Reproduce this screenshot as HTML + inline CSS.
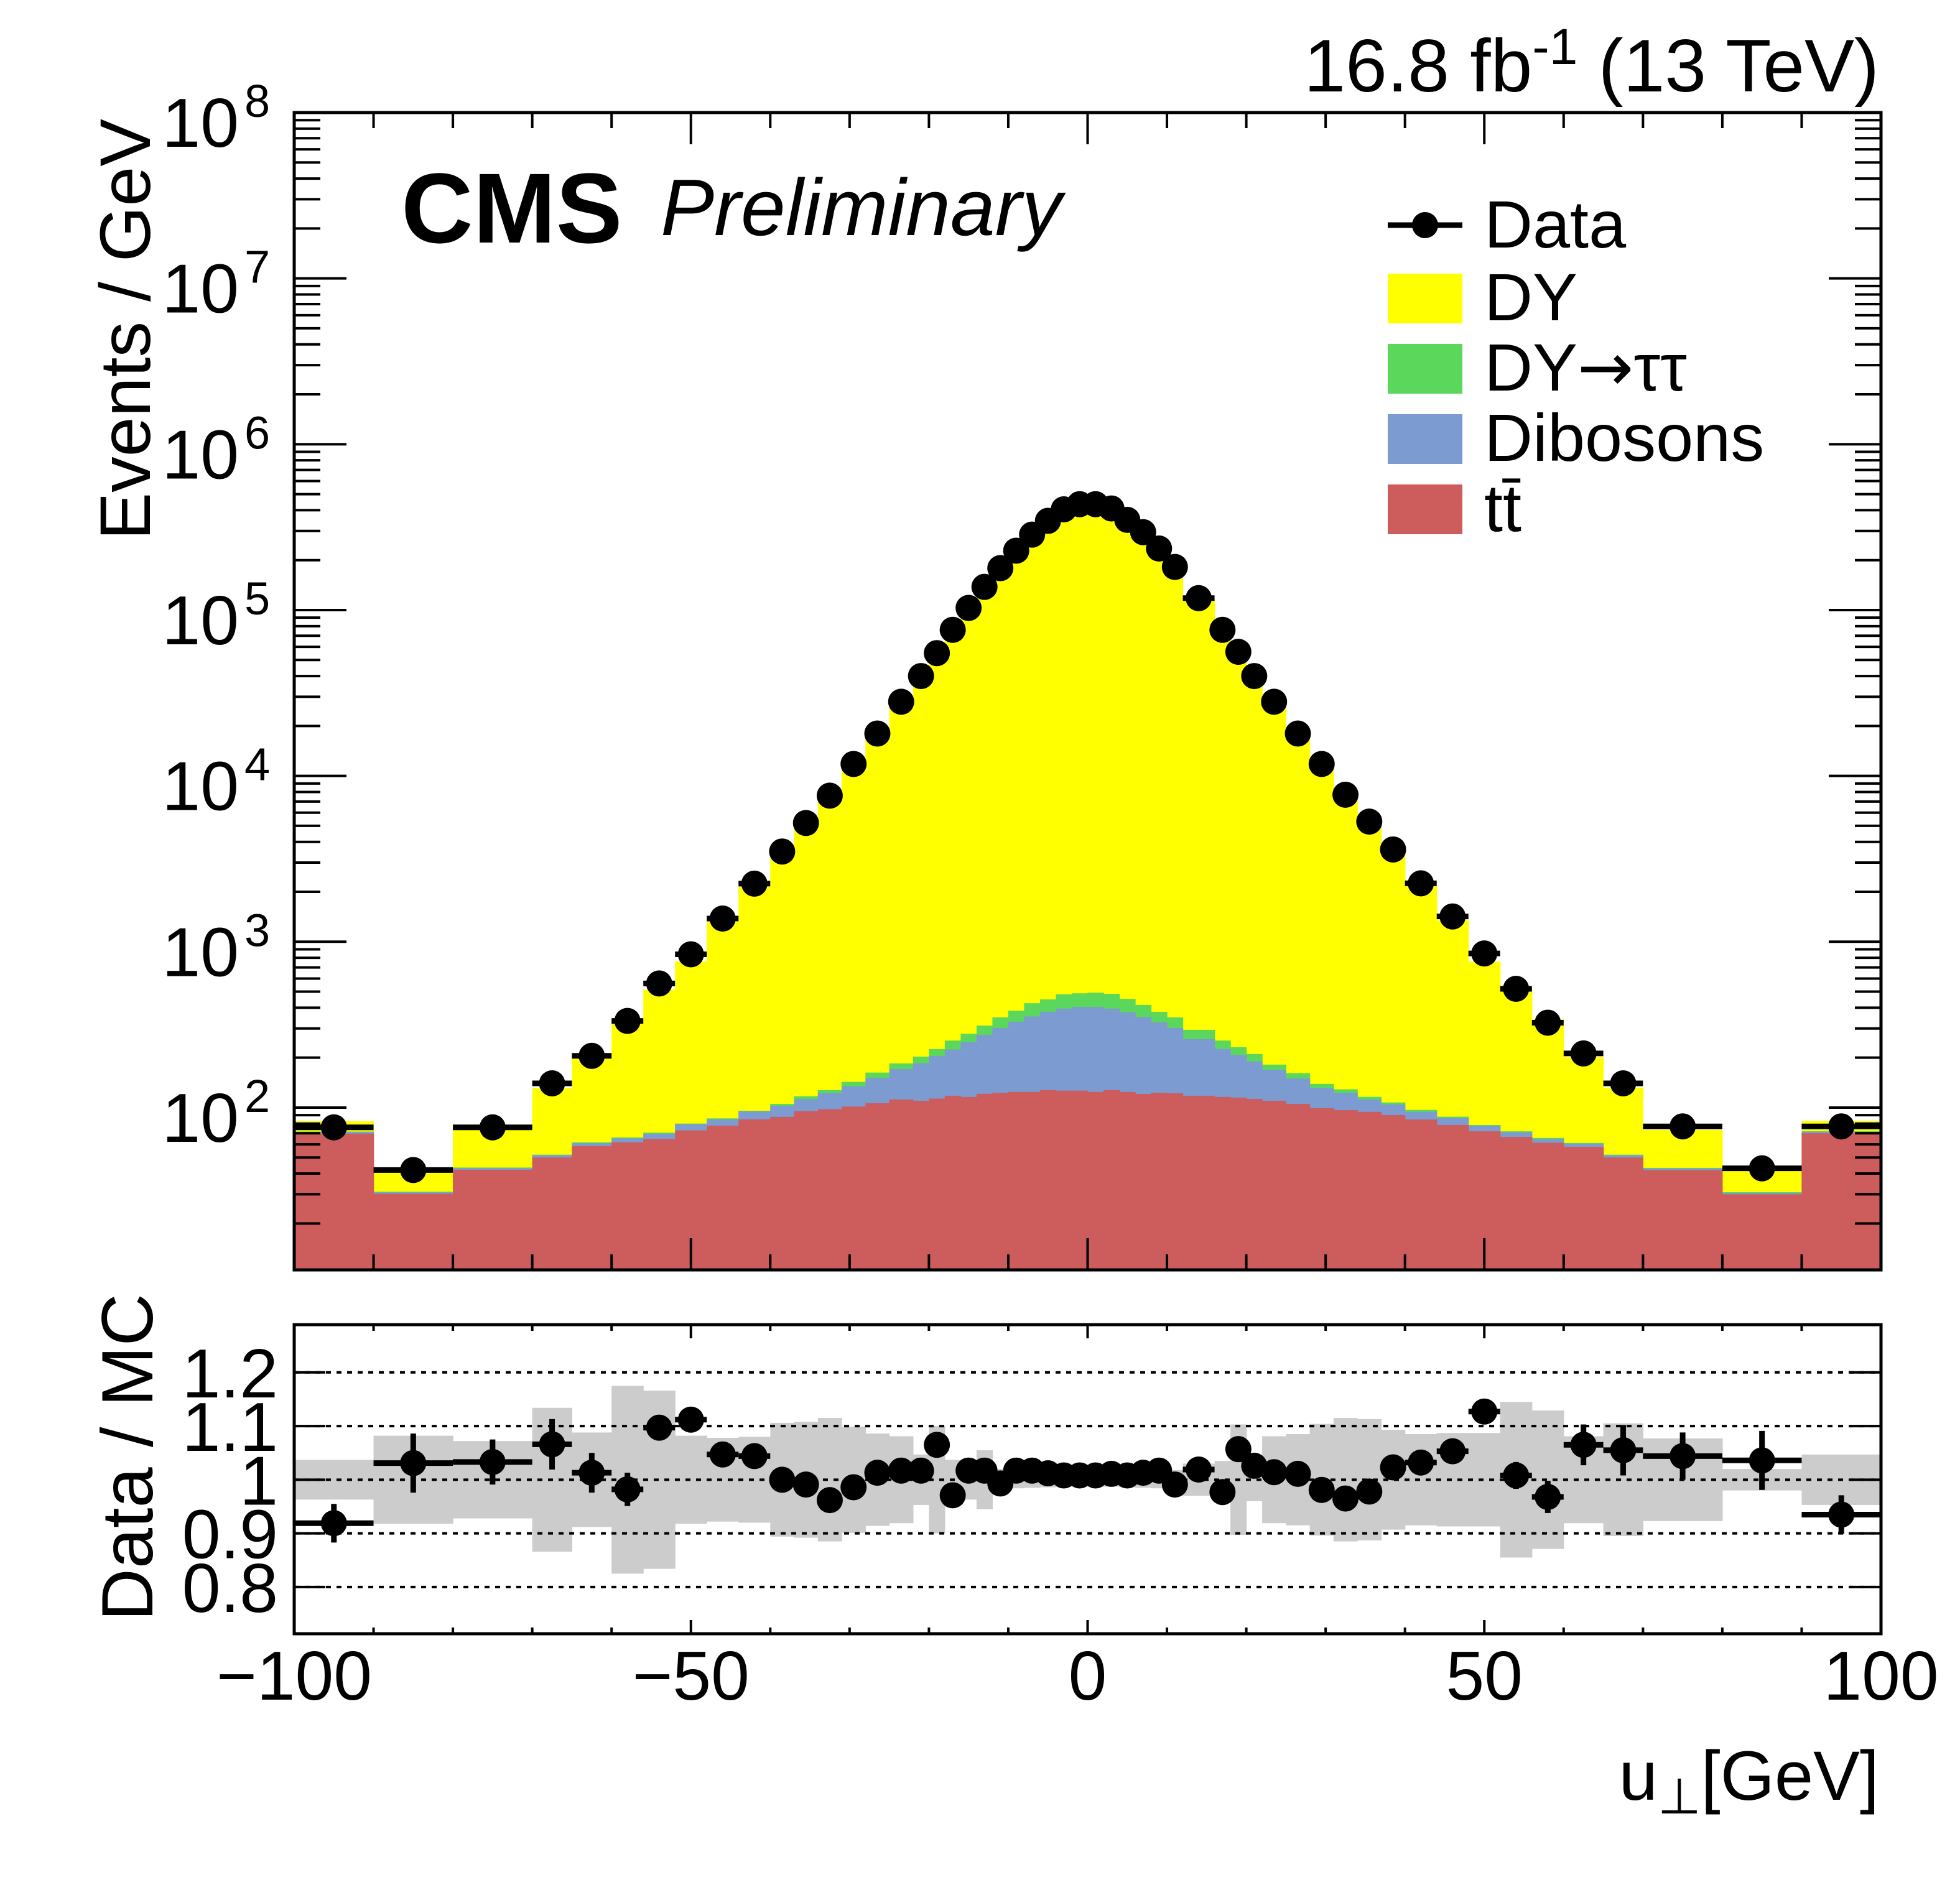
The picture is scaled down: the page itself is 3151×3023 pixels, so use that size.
<!DOCTYPE html>
<html><head><meta charset="utf-8"><style>
html,body{margin:0;padding:0;background:#fff;}
svg{display:block;font-family:"Liberation Sans",Arial,sans-serif;}
</style></head><body>
<svg id="chart" xmlns="http://www.w3.org/2000/svg" width="3151" height="3023" viewBox="0 0 3151 3023">
<rect x="0" y="0" width="3151" height="3023" fill="#fff"/>
<g id="top-marks"></g>
<g id="low-marks"></g>
<g id="axes"></g>
<text x="3021" y="147" font-size="120" text-anchor="end">16.8 fb<tspan font-size="82" dy="-44">-1</tspan><tspan dy="44"> (13 TeV)</tspan></text>
<text x="645" y="390" font-size="160" font-weight="bold">CMS</text>
<text x="1062" y="378" font-size="129" font-style="italic">Preliminary</text>
<text transform="translate(241,191) rotate(-90)" font-size="115" text-anchor="end">Events / GeV</text>
<text transform="translate(245,2080) rotate(-90)" font-size="117" text-anchor="end">Data / MC</text>
<text x="3021" y="2894" font-size="112" text-anchor="end">u<tspan font-size="80" dy="22">⊥</tspan><tspan dy="-22">[GeV]</tspan></text>
<g>
  <line x1="2231" y1="362" x2="2351" y2="362" stroke="#000" stroke-width="9"/>
  <circle cx="2291" cy="362" r="21" fill="#000"/>
  <text x="2386" y="398" font-size="108">Data</text>
  <rect x="2231" y="440" width="120" height="80" fill="#ffff00"/>
  <text x="2386" y="515" font-size="108">DY</text>
  <rect x="2231" y="553" width="120" height="80" fill="#5bd75b"/>
  <text x="2386" y="628" font-size="108">DY<tspan font-family="DejaVu Sans, sans-serif">→</tspan>ττ</text>
  <rect x="2231" y="666" width="120" height="80" fill="#7b9bd1"/>
  <text x="2386" y="741" font-size="108">Dibosons</text>
  <rect x="2231" y="779" width="120" height="80" fill="#cd5c5c"/>
  <text x="2386" y="854" font-size="108">tt̄</text>
</g>
</svg>
<script>
const binEdges=[-100,-90,-80,-70,-65,-60,-56,-52,-48,-44,-40,-37,-34,-31,-28,-25,-22,-20,-18,-16,-14,-12,-10,-8,-6,-4,-2,0,2,4,6,8,10,12,16,18,20,22,25,28,31,34,37,40,44,48,52,56,60,65,70,80,90,100];
const ttbar=[69.7,30.2,42.2,50,58.5,61.7,64.6,72.8,77.8,84.9,87.9,95.1,97.7,101.4,106.2,111.9,109.9,113.2,117.8,115.9,121.1,122.7,124.2,124.2,127.4,126.5,126.5,124.2,127.4,124.2,120.8,122.7,121.9,117.8,115.9,114.8,112.7,109.9,105.2,99.1,96.6,94.2,90.2,84.7,78.5,71.9,66.5,61.4,58,50,42,30,70];
const dibosons=[1.5,0.6,0.9,1.5,2.5,3.5,5,6.5,7.1,9.9,14.6,17.4,24.5,32.9,44.5,58.7,75,91.4,106.1,131.8,153.7,179.3,205.4,229.8,251,268.9,278,280.4,268,251.6,230.8,203.9,180,141,109.5,92.7,77,59.1,44.4,32.1,25.9,18,14.3,9.5,8,5.9,4.5,3.2,2.5,1.5,0.9,0.6,1.5];
const dyTauTau=[0.5,0.3,0.4,0.5,0.7,0.8,1,0.8,1.2,0.9,2.7,4.5,5.2,8.6,11.9,13.9,17.9,20.8,29.6,30.9,37.1,47.9,54.1,71.6,70.3,86.6,84.1,88.6,89.6,76.2,64.4,51,47.9,35.6,28.1,23.7,20.7,12.6,11.5,7.8,6.3,3.9,2.9,2.6,1.6,0.7,0.9,1,0.7,0.5,0.4,0.3,0.5];
const dy=[11,9.5,30,79,141,275,443,680,1235,2050,3400,5130,7770,11830,17600,27350,39140,51430,78040,101030,135420,179960,223860,279890,340540,401400,431150,431150,405500,346800,290800,230800,183300,115500,77500,52700,38800,27400,17650,11900,7850,5300,3420,2090,1260,680,450,275,140,80,30,10.5,11];
const dataVals=[76,42,76,140,205,333,560,840,1380,2240,3500,5200,7600,11800,18000,28000,40000,55000,76000,103000,138000,179000,228000,285000,345000,405000,435000,435000,410000,350000,295000,235000,182000,118000,76000,56000,40000,28000,18000,11800,7700,5300,3600,2250,1420,850,520,325,212,140,77,43,77];
const ratioVals=[0.919,1.031,1.033,1.066,1.013,0.982,1.097,1.112,1.047,1.044,1.0,0.991,0.962,0.986,1.013,1.017,1.017,1.065,0.971,1.017,1.017,0.993,1.017,1.017,1.012,1.008,1.008,1.008,1.011,1.008,1.013,1.017,0.991,1.019,0.977,1.057,1.026,1.014,1.011,0.981,0.965,0.978,1.023,1.032,1.053,1.127,1.008,0.968,1.065,1.055,1.044,1.036,0.935];
const ratioErr=[0.036,0.055,0.042,0.047,0.037,0.031,0.02,0.015,0.01,0.01,0.01,0.01,0.01,0.01,0.01,0.01,0.01,0.01,0.01,0.01,0.01,0.01,0.01,0.01,0.01,0.01,0.01,0.01,0.01,0.01,0.01,0.01,0.01,0.01,0.01,0.01,0.01,0.01,0.01,0.01,0.01,0.01,0.01,0.01,0.01,0.015,0.025,0.03,0.038,0.047,0.044,0.055,0.036];
const bandHalf=[0.037,0.082,0.072,0.134,0.088,0.175,0.166,0.082,0.078,0.08,0.106,0.108,0.115,0.099,0.086,0.081,0.047,0.1,0.037,0.037,0.055,0.02,0.016,0.015,0.014,0.013,0.013,0.013,0.013,0.014,0.015,0.016,0.018,0.03,0.035,0.103,0.04,0.081,0.085,0.104,0.115,0.113,0.093,0.085,0.087,0.087,0.145,0.129,0.081,0.105,0.077,0.02,0.047];
const yTickDecades=[2,3,4,5,6,7,8];
const ratioTicks=[0.8,0.9,1.0,1.1,1.2];
const ratioTickLabels=["0.8","0.9","1","1.1","1.2"];
const xTicks=[-100,-50,0,50,100];
const xTickLabels=["−100","−50","0","50","100"];

const NS="http://www.w3.org/2000/svg";
const X0=473,X1=3024,TY0=181,TY1=2042,LY0=2130,LY1=2627;
const LOGMIN=1.021,LOGMAX=8,RMIN=0.713,RMAX=1.289;
const sx=v=>X0+(v+100)/200*(X1-X0);
const sy=v=>TY1-(Math.log10(v)-LOGMIN)/(LOGMAX-LOGMIN)*(TY1-TY0);
const ry=v=>LY1-(v-RMIN)/(RMAX-RMIN)*(LY1-LY0);
function mk(tag,attrs,parent){const e=document.createElementNS(NS,tag);for(const k in attrs)e.setAttribute(k,attrs[k]);parent.appendChild(e);return e;}
const topG=document.getElementById('top-marks'),lowG=document.getElementById('low-marks'),axG=document.getElementById('axes');
const svgEl=document.getElementById('chart');
const defs=mk('defs',{},svgEl);
const clipT=mk('clipPath',{id:'ct'},defs);mk('rect',{x:X0,y:TY0,width:X1-X0,height:TY1-TY0},clipT);
topG.setAttribute('clip-path','url(#ct)');
const colors=['#cd5c5c','#7b9bd1','#5bd75b','#ffff00'];
const names=['ttbar','dibosons','dytautau','dy'];
const series=[ttbar,dibosons,dyTauTau,dy];
for(let s=3;s>=0;s--){
  for(let i=0;i<dy.length;i++){
    let cum=0;for(let k=0;k<=s;k++)cum+=series[k][i];
    const x=sx(binEdges[i]),w=sx(binEdges[i+1])-x,y=sy(cum);
    const r=mk('rect',{x:x,y:y,width:w+0.6,height:TY1-y,fill:colors[s]},topG);
    
    
  }
}
for(let i=0;i<dataVals.length;i++){
  const cx=(sx(binEdges[i])+sx(binEdges[i+1]))/2,cy=sy(dataVals[i]);
  const l=mk('line',{x1:sx(binEdges[i]),x2:sx(binEdges[i+1]),y1:cy,y2:cy,stroke:'#000','stroke-width':9},topG);
  
  
  const c=mk('circle',{cx:cx,cy:cy,r:21,fill:'#000'},topG);
  
  
}
for(let i=0;i<bandHalf.length;i++){
  const x=sx(binEdges[i]),w=sx(binEdges[i+1])-x;
  const r=mk('rect',{x:x,y:ry(1+bandHalf[i]),width:w+0.6,height:ry(1-bandHalf[i])-ry(1+bandHalf[i]),fill:'#cccccc'},lowG);
  
  
}
ratioTicks.forEach((t,j)=>{
  const l=mk('line',{x1:X0,x2:X1,y1:ry(t),y2:ry(t),stroke:'#000','stroke-width':4,'stroke-dasharray':'8 9'},lowG);
  
  
});
for(let i=0;i<ratioVals.length;i++){
  const cx=(sx(binEdges[i])+sx(binEdges[i+1]))/2,cy=ry(ratioVals[i]);
  const l=mk('line',{x1:sx(binEdges[i]),x2:sx(binEdges[i+1]),y1:cy,y2:cy,stroke:'#000','stroke-width':9},lowG);
  
  
  const v=mk('line',{x1:cx,x2:cx,y1:ry(ratioVals[i]+ratioErr[i]),y2:ry(ratioVals[i]-ratioErr[i]),stroke:'#000','stroke-width':9},lowG);
  
  
  const c=mk('circle',{cx:cx,cy:cy,r:21,fill:'#000'},lowG);
  
  
}
const f1=mk('rect',{x:X0,y:TY0,width:X1-X0,height:TY1-TY0,fill:'none',stroke:'#000','stroke-width':5},axG);


const f2=mk('rect',{x:X0,y:LY0,width:X1-X0,height:LY1-LY0,fill:'none',stroke:'#000','stroke-width':5},axG);


function tick(x1,y1,x2,y2){return mk('line',{x1:x1,y1:y1,x2:x2,y2:y2,stroke:'#000','stroke-width':4},axG);}
for(let v=-90;v<100;v+=10){
  const major=(v%50===0);const x=sx(v);
  let t=tick(x,TY1,x,TY1-(major?51:25));
  
  
  t=tick(x,TY0,x,TY0+(major?51:25));
  
  
  t=tick(x,LY1,x,LY1-(major?22:10));
  
  
  t=tick(x,LY0,x,LY0+(major?22:10));
  
  
}
xTicks.forEach((v,j)=>{
  const t=mk('text',{x:sx(v),y:2733,'font-size':111,'text-anchor':'middle'},axG);t.textContent=xTickLabels[j];
  
  
});
for(let d=1;d<=8;d++){
  for(let m=1;m<=9;m++){
    const lv=(m===1)?d:Math.log10(m*Math.pow(10,d-1));
    if(lv<LOGMIN||lv>LOGMAX)continue;
    const y=sy(Math.pow(10,lv));const len=(m===1)?84:42;
    let t=tick(X0,y,X0+len,y);
    
    
    t=tick(X1,y,X1-len,y);
    
    
  }
}
yTickDecades.forEach(d=>{
  const y=sy(Math.pow(10,d));
  const t=mk('text',{x:384,y:y+55,'font-size':111,'text-anchor':'end'},axG);t.textContent='10';
  
  
  const s=mk('text',{x:393,y:y+7,'font-size':74},axG);s.textContent=String(d);
  
  
});
ratioTicks.forEach((v,j)=>{
  const y=ry(v);
  let t=tick(X0,y,X0+50,y);
  
  
  t=tick(X1,y,X1-50,y);
  
  
  const tx=mk('text',{x:447,y:y+40,'font-size':111,'text-anchor':'end'},axG);tx.textContent=ratioTickLabels[j];
  
  
});
</script>
</body></html>
